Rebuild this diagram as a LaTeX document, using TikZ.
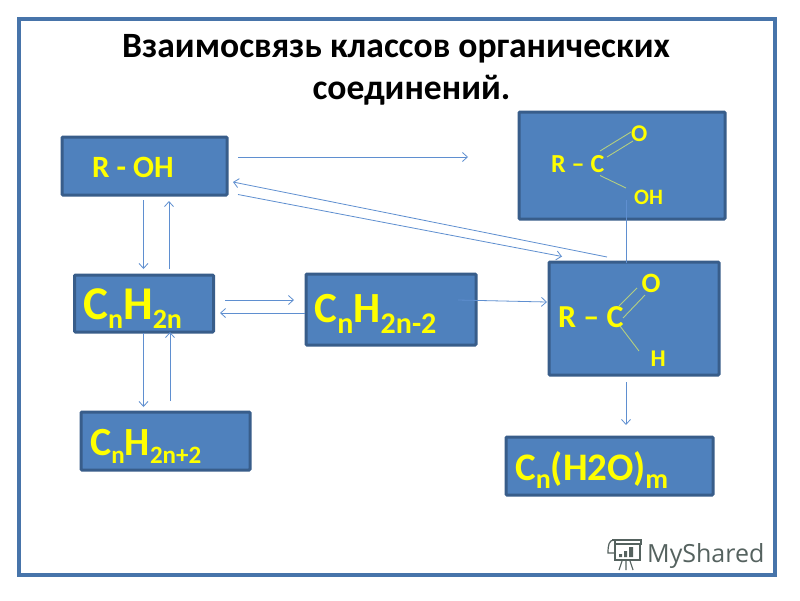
\documentclass[tikz,border=0pt]{standalone}
\usepackage{fontspec}
\setmainfont{Carlito}
\newfontfamily\wmfont{Open Sans}
\usetikzlibrary{arrows.meta}
\definecolor{boxfill}{HTML}{4F81BD}
\definecolor{boxline}{HTML}{385D8A}
\definecolor{conncol}{HTML}{5F8FD0}
\definecolor{bondcol}{HTML}{B4CF80}
\definecolor{chemyellow}{HTML}{FFFF00}
\definecolor{wmcol}{HTML}{55625F}
\newcommand{\fs}[1]{\fontsize{#1}{#1}\selectfont}
\newcommand{\lowr}[3]{\raisebox{-#2pt}{\fs{#1}#3}}
\tikzset{
  x=1pt,y=-1pt,
  box/.style={draw=boxline,fill=boxfill,line width=3pt,rounded corners=1pt,minimum height=#1,inner ysep=0pt},
  chem/.style={text=chemyellow,font=\bfseries,inner sep=0pt,anchor=base west},
  conn/.style={draw=conncol,line width=0.8pt,-{Straight Barb[length=5pt,width=9pt,line width=0.8pt]}},
  plain/.style={draw=conncol,line width=0.8pt},
  bond/.style={draw=bondcol,line width=0.9pt},
  titletext/.style={font=\bfseries\fs{35.6},inner sep=0pt,anchor=base},
}
\begin{document}
\begin{tikzpicture}
\useasboundingbox (0,0) rectangle (800,600);
\fill[white] (0,0) rectangle (800,600);
\node[draw=boxfill!90!black,line width=4pt,minimum width=756pt,minimum height=556pt,inner sep=0pt] (frame) at (397,297) {};

\node[titletext] (t1) at (396,57) {Взаимосвязь классов органических};
\node[titletext] (t2) at (411.5,99) {соединений.};

\node[box=58pt,minimum width=165pt] (roh) at (144.5,166) {};
\node[box=107pt,minimum width=206pt] (acid) at (622,165.5) {};
\node[box=113pt,minimum width=170pt] (ald) at (634,318.5) {};
\node[box=57pt,minimum width=139pt] (ene) at (144,303.5) {};
\node[box=71pt,minimum width=170pt] (yne) at (391,309.5) {};
\node[box=58pt,minimum width=169pt] (ane) at (165.5,441) {};
\node[box=58pt,minimum width=207pt] (carb) at (609.5,466) {};

\node[chem,font=\bfseries\fs{31}] (troh) at (92,177) {R - OH};
\node[chem,font=\bfseries\fs{47}] (tene) at (83,319) {C\lowr{28}{9.5}{n}H\lowr{28}{9.5}{2n}};
\node[chem,font=\bfseries\fs{43}] (tyne) at (314.5,322.5) {C\lowr{30}{11}{n}H\lowr{30}{11}{2n-2}};
\node[chem,font=\bfseries\fs{40}] (tane) at (90,455) {C\lowr{25}{8}{n}H\lowr{25}{8}{2n+2}};
\node[chem,font=\bfseries\fs{39}] (tcarb) at (515,480) {C\lowr{28}{8}{n}(H2O)\lowr{28}{8}{m}};

\node[chem,font=\bfseries\fs{26}] (ra) at (551,172) {R – C};
\node[chem,font=\bfseries\fs{24}] (oa) at (631,141) {O};
\node[chem,font=\bfseries\fs{22}] (oha) at (634,204) {OH};
\node[chem,font=\bfseries\fs{32}] (rb) at (558,327) {R – C};
\node[chem,font=\bfseries\fs{28}] (ob) at (641.5,292) {O};
\node[chem,font=\bfseries\fs{24}] (hb) at (650.5,366) {H};

\draw[bond] (600,151) -- (631,132);
\draw[bond] (607,157) -- (633,141);
\draw[bond] (600,175.5) -- (626,188);
\draw[bond] (619,306) -- (637,288);
\draw[bond] (623,318) -- (645,295);
\draw[bond] (620,326) -- (639,351);

\coordinate (a1) at (238,157); \coordinate (a2) at (468,157);
\coordinate (b1) at (607,257); \coordinate (b2) at (233,182);
\coordinate (c1) at (238,194.5); \coordinate (c2) at (562,256.5);
\coordinate (d1) at (626,200); \coordinate (d2) at (626,263);
\coordinate (e1) at (626,382); \coordinate (e2) at (626,425);
\coordinate (f1) at (143.5,200); \coordinate (f2) at (143.5,269);
\coordinate (g1) at (169,269); \coordinate (g2) at (169,201);
\coordinate (h1) at (143.5,333); \coordinate (h2) at (143.5,407);
\coordinate (i1) at (170,401); \coordinate (i2) at (170,332);
\coordinate (j1) at (225,300); \coordinate (j2) at (294,300);
\coordinate (k1) at (305,313); \coordinate (k2) at (220,313);
\coordinate (l1) at (458,300); \coordinate (l2) at (547,302);

\draw[conn] (a1) -- (a2);
\draw[conn] (b1) -- (b2);
\draw[conn] (c1) -- (c2);
\draw[plain] (d1) -- (d2);
\draw[conn] (e1) -- (e2);
\draw[conn] (f1) -- (f2);
\draw[conn] (g1) -- (g2);
\draw[conn] (h1) -- (h2);
\draw[conn] (i1) -- (i2);
\draw[conn] (j1) -- (j2);
\draw[conn] (k1) -- (k2);
\draw[conn] (l1) -- (l2);

% watermark
\fill[white] (606,536) rectangle (765,571);
\draw[wmcol,line width=1.4pt] (612,540) -- (641,540) -- (641,544) -- (615,544) (615,540) -- (615,560) -- (640,560) -- (640,544);
\draw[wmcol,line width=1.2pt] (614,540) .. controls (609,540) and (608,545) .. (608,553) -- (615,553);
\fill[wmcol] (619,554) rectangle (622,557) (624,551) rectangle (627,557) (629,547) rectangle (633,557);
\draw[wmcol,line width=1.1pt] (622,561) -- (619,570) (626,561) -- (626,570) (630,561) -- (633,570);
\node[inner sep=0pt,anchor=base west,text=wmcol,font=\wmfont\fs{25}] (wm) at (647,562) {MyShared};
\end{tikzpicture}
\end{document}
